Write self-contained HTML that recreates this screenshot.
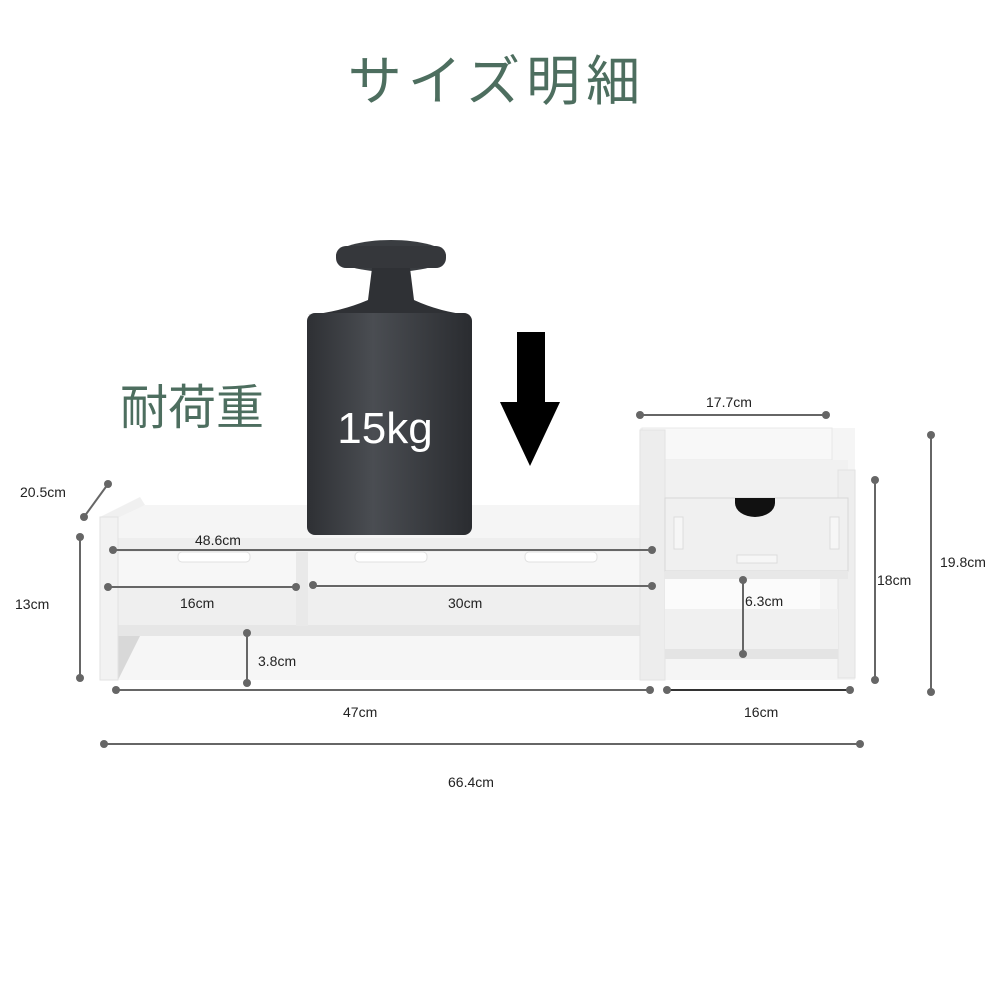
<!DOCTYPE html>
<html><head><meta charset="utf-8"><style>
body{margin:0;background:#fff}
svg{display:block}
text{font-family:"Liberation Sans","Noto Sans CJK JP",sans-serif}
</style></head><body>
<svg width="1001" height="1001" viewBox="0 0 1001 1001" xmlns="http://www.w3.org/2000/svg">
<defs>
<linearGradient id="wg" x1="0" x2="1"><stop offset="0" stop-color="#2e3034"/><stop offset="0.4" stop-color="#4a4d52"/><stop offset="1" stop-color="#2a2c30"/></linearGradient>
<linearGradient id="sh" x1="0" y1="0" x2="0" y2="1"><stop offset="0" stop-color="#f4f4f4"/><stop offset="1" stop-color="#e4e4e4"/></linearGradient>
</defs>
<rect width="1001" height="1001" fill="#fff"/>
<text x="497" y="100" text-anchor="middle" font-size="54" fill="#4d6e5f" letter-spacing="6">サイズ明細</text>
<text x="120" y="424" font-size="48" fill="#4d6e5f">耐荷重</text>

<!-- left shelf -->
<polygon points="100,517 140,497 145,505 118,520" fill="#f0f0f0"/>
<polygon points="113,520 145,505 650,505 655,540 113,540" fill="#f5f5f5"/>
<rect x="113" y="538" width="542" height="14" fill="#eeeeee"/>
<rect x="118" y="552" width="537" height="36" fill="#f7f7f7"/>
<rect x="118" y="588" width="537" height="38" fill="#efefef"/>
<rect x="113" y="625" width="542" height="11" fill="#e6e6e6"/>
<rect x="118" y="636" width="530" height="44" fill="#f6f6f6"/>
<polygon points="118,636 140,636 118,680" fill="#d8d8d8"/>
<rect x="296" y="552" width="12" height="74" fill="#e9e9e9"/>
<rect x="100" y="517" width="18" height="163" fill="#f2f2f2" stroke="#e2e2e2"/>
<rect x="640" y="552" width="18" height="128" fill="#f2f2f2" stroke="#e5e5e5"/>
<rect x="178" y="552" width="72" height="10" rx="4" fill="#fff" stroke="#e0e0e0"/>
<rect x="355" y="552" width="72" height="10" rx="4" fill="#fff" stroke="#e0e0e0"/>
<rect x="525" y="552" width="72" height="10" rx="4" fill="#fff" stroke="#e0e0e0"/>

<!-- right unit -->
<rect x="640" y="428" width="215" height="252" fill="#f5f5f5"/>
<rect x="642" y="428" width="190" height="32" fill="#f8f8f8" stroke="#e8e8e8"/>
<rect x="658" y="460" width="190" height="38" fill="#f1f1f1"/>
<rect x="640" y="430" width="25" height="250" fill="#ededed" stroke="#e2e2e2"/>
<rect x="838" y="470" width="17" height="208" fill="#eeeeee" stroke="#e2e2e2"/>
<rect x="665" y="498" width="183" height="73" fill="#f0f0f0" stroke="#d8d8d8"/>
<path d="M735,498 h40 v5 a20,14 0 0 1 -40,0 z" fill="#111"/>
<rect x="674" y="517" width="9" height="32" fill="#f6f6f6" stroke="#ddd"/>
<rect x="830" y="517" width="9" height="32" fill="#f6f6f6" stroke="#ddd"/>
<rect x="737" y="555" width="40" height="8" fill="#f6f6f6" stroke="#ddd"/>
<rect x="665" y="571" width="183" height="8" fill="#e8e8e8"/>
<rect x="665" y="579" width="155" height="30" fill="#fbfbfb"/>
<rect x="665" y="609" width="173" height="40" fill="#f0f0f0"/>
<rect x="665" y="649" width="173" height="10" fill="#e4e4e4"/>

<!-- weight -->
<ellipse cx="391" cy="256" rx="55" ry="16" fill="#3a3d41"/>
<rect x="336" y="246" width="110" height="22" rx="10" fill="#35373b"/>
<path d="M372,268 L410,268 L414,300 Q440,312 470,315 L308,315 Q340,312 368,300 Z" fill="#2f3135"/>
<rect x="307" y="313" width="165" height="222" rx="8" fill="url(#wg)"/>
<text x="385" y="443" text-anchor="middle" font-size="44" fill="#fff">15kg</text>

<!-- arrow -->
<rect x="517" y="332" width="28" height="72" fill="#000"/>
<polygon points="500,402 560,402 530,466" fill="#000"/>

<!-- dimension lines -->
<g stroke="#666" stroke-width="2" fill="none">
<line x1="84" y1="517" x2="108" y2="484"/>
<line x1="80" y1="537" x2="80" y2="678"/>
<line x1="113" y1="550" x2="652" y2="550"/>
<line x1="108" y1="587" x2="296" y2="587"/>
<line x1="313" y1="586" x2="652" y2="586"/>
<line x1="247" y1="633" x2="247" y2="683"/>
<line x1="116" y1="690" x2="650" y2="690"/>
<line x1="667" y1="690" x2="850" y2="690" stroke="#333"/>
<line x1="104" y1="744" x2="860" y2="744"/>
<line x1="640" y1="415" x2="826" y2="415"/>
<line x1="875" y1="480" x2="875" y2="680"/>
<line x1="931" y1="435" x2="931" y2="692"/>
<line x1="743" y1="580" x2="743" y2="654"/>
</g>
<g fill="#666">
<circle cx="84" cy="517" r="4"/><circle cx="108" cy="484" r="4"/>
<circle cx="80" cy="537" r="4"/><circle cx="80" cy="678" r="4"/>
<circle cx="113" cy="550" r="4"/><circle cx="652" cy="550" r="4"/>
<circle cx="108" cy="587" r="4"/><circle cx="296" cy="587" r="4"/>
<circle cx="313" cy="585" r="4"/><circle cx="652" cy="586" r="4"/>
<circle cx="247" cy="633" r="4"/><circle cx="247" cy="683" r="4"/>
<circle cx="116" cy="690" r="4"/><circle cx="650" cy="690" r="4"/>
<circle cx="667" cy="690" r="4"/><circle cx="850" cy="690" r="4"/>
<circle cx="104" cy="744" r="4"/><circle cx="860" cy="744" r="4"/>
<circle cx="640" cy="415" r="4"/><circle cx="826" cy="415" r="4"/>
<circle cx="875" cy="480" r="4"/><circle cx="875" cy="680" r="4"/>
<circle cx="931" cy="435" r="4"/><circle cx="931" cy="692" r="4"/>
<circle cx="743" cy="580" r="4"/><circle cx="743" cy="654" r="4"/>
</g>
<g font-size="14" fill="#222">
<text x="20" y="497">20.5cm</text>
<text x="15" y="609">13cm</text>
<text x="195" y="545">48.6cm</text>
<text x="180" y="608">16cm</text>
<text x="448" y="608">30cm</text>
<text x="258" y="666">3.8cm</text>
<text x="343" y="717">47cm</text>
<text x="744" y="717">16cm</text>
<text x="448" y="787">66.4cm</text>
<text x="706" y="407">17.7cm</text>
<text x="877" y="585">18cm</text>
<text x="940" y="567">19.8cm</text>
<text x="745" y="606">6.3cm</text>
</g>
</svg>
</body></html>
